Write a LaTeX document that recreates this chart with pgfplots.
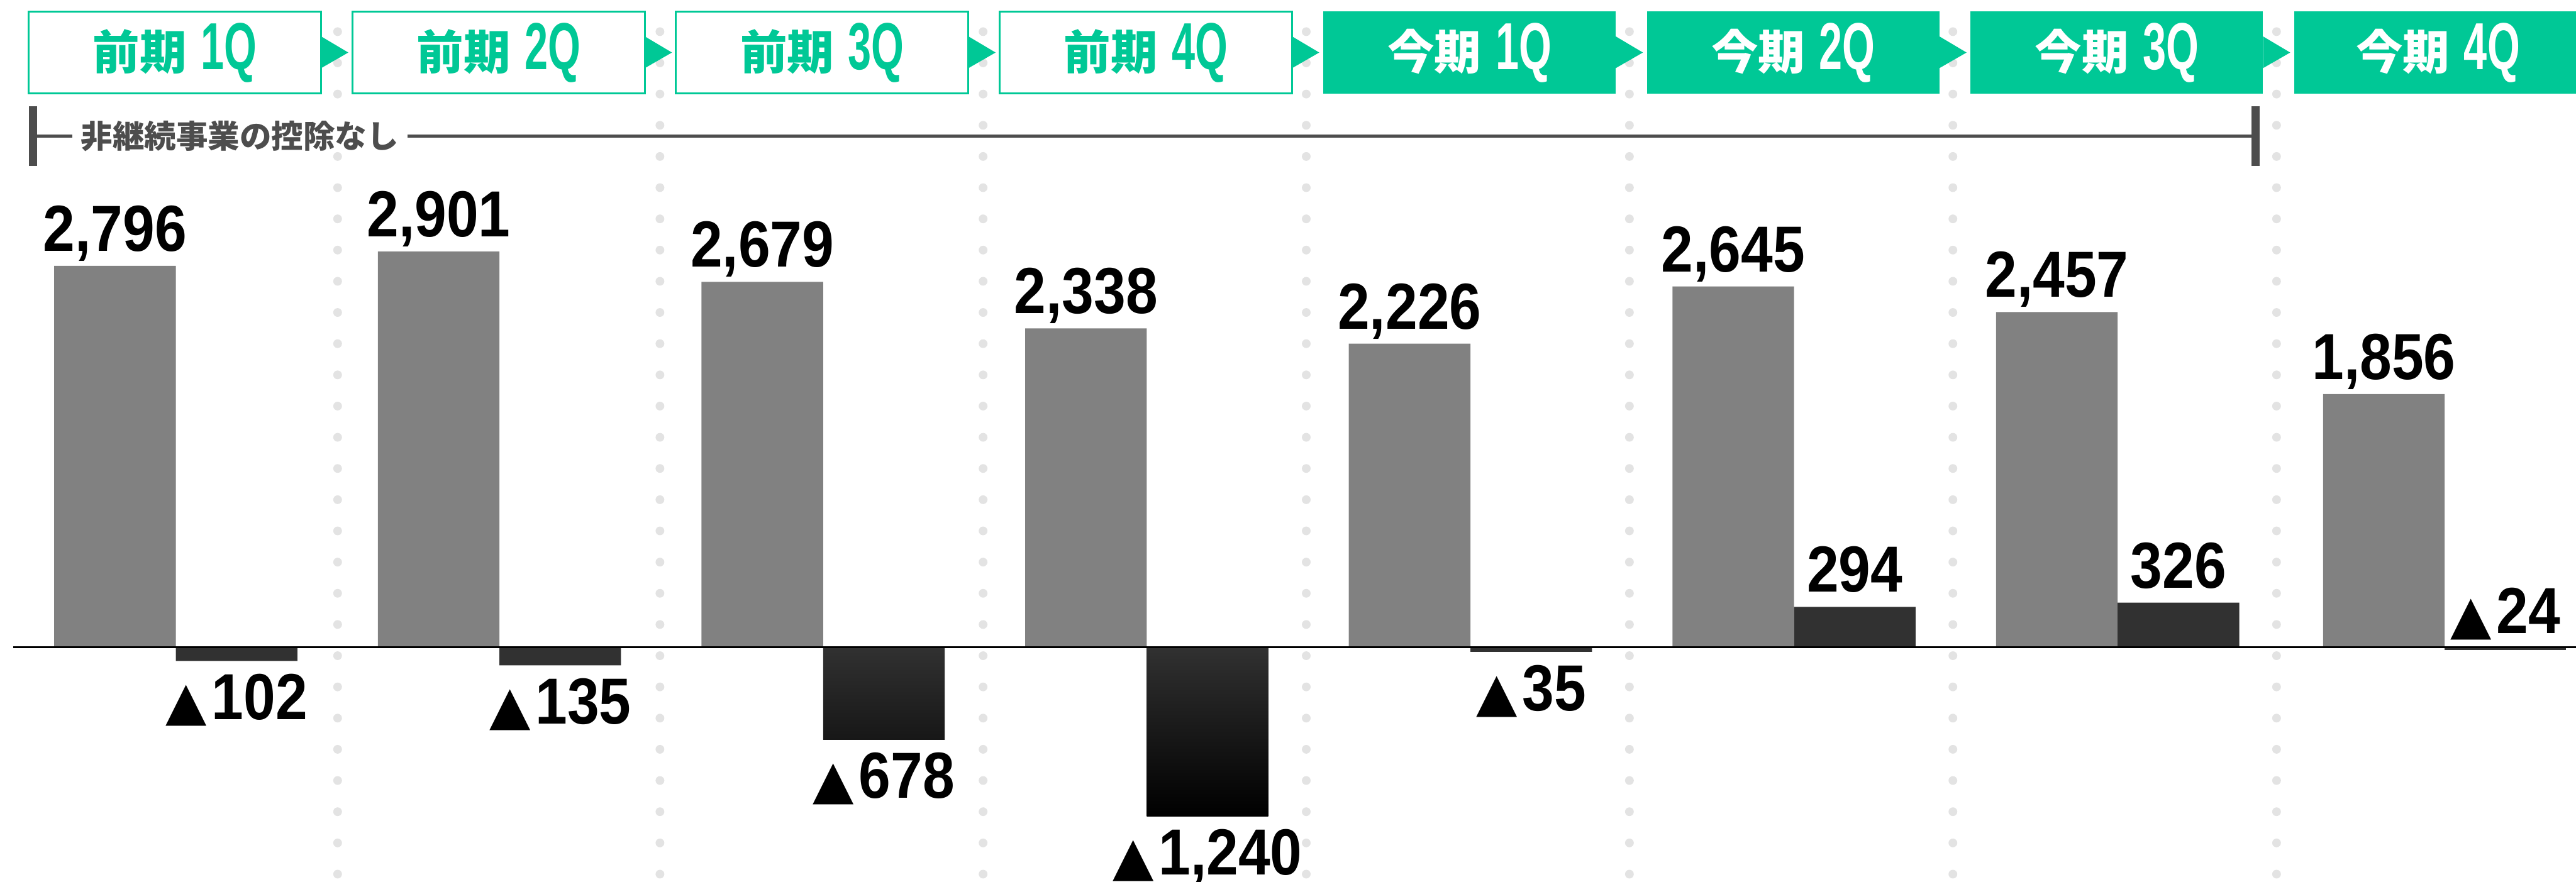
\documentclass[border=0pt]{standalone}
\usepackage{pgfplots}
\pgfplotsset{compat=1.18}
\usepackage{graphicx}
\usepackage{fontspec}
\setmainfont{Liberation Sans}
\newfontfamily\jp{Noto Sans CJK JP}
\newfontfamily\valf{Liberation Sans}[FakeStretch=0.88]
\newfontfamily\hnum{Liberation Sans}[FakeStretch=0.63]
\newfontfamily\dv{DejaVu Sans}
\definecolor{grn}{RGB}{0,200,150}
\definecolor{gbar}{RGB}{129,129,129}
\definecolor{dbar}{RGB}{49,49,49}
\definecolor{dmid}{RGB}{23,23,23}
\definecolor{dotc}{RGB}{227,227,227}
\definecolor{brk}{RGB}{77,77,77}
\newcommand\tri{{\dv\scalebox{0.82}{▲}}\kern0.9pt}
\newcommand\hdr[2]{{\jp\bfseries\fontsize{8.55}{9}\selectfont #1}\hspace{2.6pt}{\hnum\bfseries\fontsize{12.15}{12}\selectfont #2}}
\tikzset{vlab/.style={font=\valf\bfseries\fontsize{11.9}{12}\selectfont, inner sep=0pt, text=black}}
\pgfplotsset{
  above lab/.style={nodes near coords style={vlab, anchor=base, yshift=2.7pt}},
  below lab/.style={nodes near coords style={vlab, anchor=north, yshift=-2.2pt}},
}
\begin{document}
\begin{tikzpicture}
\begin{axis}[
  scale only axis, width=470.4pt, height=161.1pt,
  xmin=0, xmax=1568, ymin=-1722.9, ymax=4747,
  hide axis, clip=false,
  ybar, bar width=74,
  nodes near coords,
  point meta=explicit symbolic,
]
% dotted separators
\pgfplotsinvokeforeach{205.5,401.7,598.4,795.1,991.8,1188.7,1385.7}{
  \draw[dotc, line width=1.6pt, line cap=round, dash pattern=on 0pt off 5.7pt] (axis cs:#1,4514.5) -- (axis cs:#1,-1722.9);
}
% header boxes (outlined)
\pgfplotsinvokeforeach{17.5,214.5,411.5,608.5}{
  \fill[grn] (axis cs:{#1+178},4479.5) -- (axis cs:{#1+194.5},4361.4) -- (axis cs:{#1+178},4247) -- cycle;
  \draw[grn, line width=0.35pt, fill=white] (axis cs:#1,4662.7) rectangle (axis cs:{#1+178},4060.2);
}
% header boxes (filled)
\pgfplotsinvokeforeach{805.5,1002.5,1199.5}{
  \fill[grn] (axis cs:{#1+178},4479.5) -- (axis cs:{#1+194.5},4361.4) -- (axis cs:{#1+178},4247) -- cycle;
  \fill[grn] (axis cs:#1,4662.7) rectangle (axis cs:{#1+178},4060.2);
}
\fill[grn] (axis cs:1396.5,4662.7) rectangle (axis cs:1568,4060.2);
\node[text=grn, inner sep=0pt] at (axis cs:106.5,4361.4) {\hdr{前期}{1Q}};
\node[text=grn, inner sep=0pt] at (axis cs:303.5,4361.4) {\hdr{前期}{2Q}};
\node[text=grn, inner sep=0pt] at (axis cs:500.5,4361.4) {\hdr{前期}{3Q}};
\node[text=grn, inner sep=0pt] at (axis cs:697.5,4361.4) {\hdr{前期}{4Q}};
\node[text=white, inner sep=0pt] at (axis cs:894.5,4361.4) {\hdr{今期}{1Q}};
\node[text=white, inner sep=0pt] at (axis cs:1091.5,4361.4) {\hdr{今期}{2Q}};
\node[text=white, inner sep=0pt] at (axis cs:1288.5,4361.4) {\hdr{今期}{3Q}};
\node[text=white, inner sep=0pt] at (axis cs:1484,4361.4) {\hdr{今期}{4Q}};
% bracket
\draw[brk, line width=0.54pt] (axis cs:20,3748.2) -- (axis cs:1373,3748.2);
\draw[brk, line width=1.5pt] (axis cs:20,3968.7) -- (axis cs:20,3531.3);
\draw[brk, line width=1.5pt] (axis cs:1373,3968.7) -- (axis cs:1373,3531.3);
\node[fill=white, inner xsep=1.6pt, inner ysep=0pt, text=brk, font=\jp\bfseries\fontsize{5.8}{6}\selectfont] at (axis cs:146,3748.2) {非継続事業の控除なし};
% gray bars
\addplot[fill=gbar, draw=none, bar shift=-37, above lab] coordinates {
  (107,2796) [2,796]
  (304,2901) [2,901]
  (501,2679) [2,679]
  (698,2338) [2,338]
  (895,2226) [2,226]
  (1092,2645) [2,645]
  (1289,2457) [2,457]
  (1488,1856) [1,856]
};
% dark bars, negative, labels below
\addplot[fill=dbar, draw=none, bar shift=37, below lab] coordinates {
  (107,-102) [\tri102]
  (304,-135) [\tri135]
  (895,-35) [\tri35]
};
\addplot[draw=none, top color=dbar, bottom color=dmid, bar shift=37, below lab] coordinates {
  (501,-678) [\tri678]
};
\addplot[draw=none, top color=dbar, bottom color=black, bar shift=37, below lab] coordinates {
  (698,-1240) [\tri1,240]
};
% dark bars, positive
\addplot[fill=dbar, draw=none, bar shift=37, above lab] coordinates {
  (1092,294) [294]
  (1289,326) [326]
};
\addplot[fill=dbar, draw=none, bar shift=37, nodes near coords style={vlab, anchor=base, yshift=3.1pt}] coordinates {
  (1488,-24) [\tri24]
};
\draw[black, line width=0.3pt] (axis cs:8,0) -- (axis cs:1568,0);
\end{axis}
\pgfresetboundingbox
\path (current axis.south west) rectangle (current axis.north east);
\end{tikzpicture}
\end{document}
